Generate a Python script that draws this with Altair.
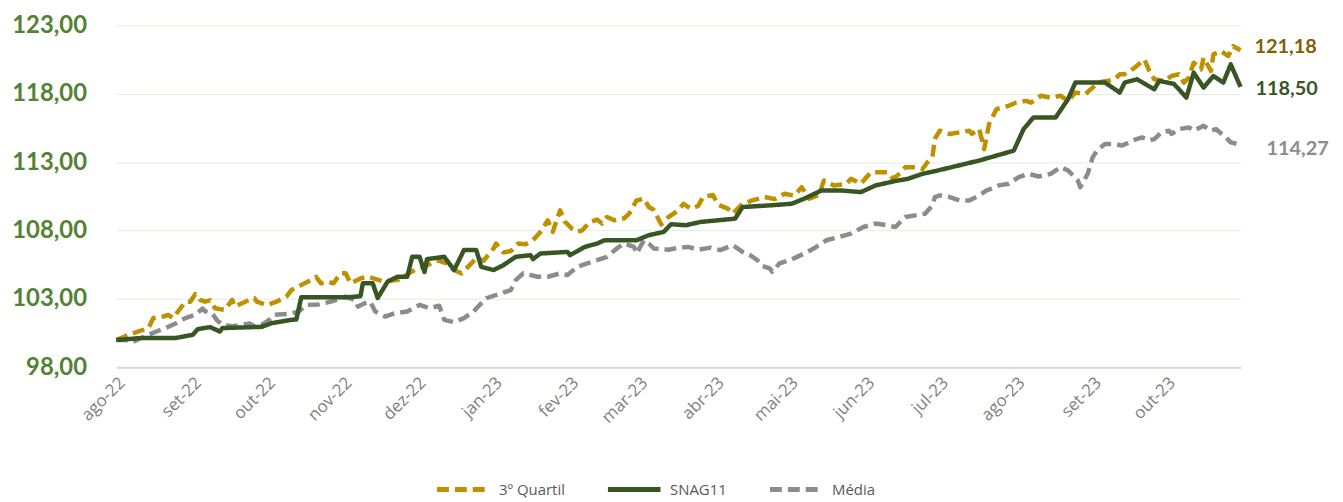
import altair as alt
import pandas as pd

# ---------------- data ----------------
series_nomes = ["3º Quartil", "SNAG11", "Média"]
series_cores = ["#BF9000", "#375623", "#8C8C8C"]
label_cores = ["#806000", "#375623", "#8C8C8C"]
y_ticks = [98, 103, 108, 113, 118, 123]
meses_pt = ["jan", "fev", "mar", "abr", "mai", "jun", "jul", "ago", "set", "out", "nov", "dez"]

q3_datas = [
    "2022-08-01", "2022-08-06", "2022-08-10", "2022-08-14", "2022-08-16", "2022-08-20", "2022-08-22",
    "2022-08-24", "2022-08-27", "2022-08-29", "2022-08-31", "2022-09-02", "2022-09-04", "2022-09-06",
    "2022-09-08", "2022-09-10", "2022-09-14", "2022-09-17", "2022-09-18", "2022-09-24", "2022-09-26",
    "2022-09-27", "2022-10-01", "2022-10-05", "2022-10-09", "2022-10-11", "2022-10-15", "2022-10-19",
    "2022-10-21", "2022-10-23", "2022-10-26", "2022-10-28", "2022-10-31", "2022-11-02", "2022-11-04",
    "2022-11-08", "2022-11-11", "2022-11-17", "2022-11-23", "2022-11-30", "2022-12-04", "2022-12-09",
    "2022-12-13", "2022-12-16", "2022-12-19", "2022-12-23", "2022-12-25", "2022-12-28", "2023-01-01",
    "2023-01-02", "2023-01-05", "2023-01-08", "2023-01-11", "2023-01-14", "2023-01-17", "2023-01-20",
    "2023-01-23", "2023-01-25", "2023-01-28", "2023-01-30", "2023-02-02", "2023-02-04", "2023-02-06",
    "2023-02-09", "2023-02-12", "2023-02-14", "2023-02-16", "2023-02-19", "2023-02-23", "2023-02-25",
    "2023-02-28", "2023-03-03", "2023-03-05", "2023-03-07", "2023-03-10", "2023-03-13", "2023-03-17",
    "2023-03-19", "2023-03-22", "2023-03-25", "2023-03-27", "2023-03-31", "2023-04-02", "2023-04-06",
    "2023-04-08", "2023-04-12", "2023-04-16", "2023-04-21", "2023-04-25", "2023-04-29", "2023-05-03",
    "2023-05-06", "2023-05-09", "2023-05-13", "2023-05-15", "2023-05-19", "2023-05-24", "2023-05-26",
    "2023-05-30", "2023-06-03", "2023-06-10", "2023-06-12", "2023-06-15", "2023-06-17", "2023-06-21",
    "2023-06-24", "2023-06-26", "2023-06-28", "2023-06-29", "2023-07-01", "2023-07-05", "2023-07-09",
    "2023-07-13", "2023-07-14", "2023-07-17", "2023-07-19", "2023-07-21", "2023-07-24", "2023-07-29",
    "2023-08-01", "2023-08-05", "2023-08-07", "2023-08-11", "2023-08-15", "2023-08-19", "2023-08-22",
    "2023-08-25", "2023-08-29", "2023-09-01", "2023-09-03", "2023-09-07", "2023-09-10", "2023-09-12",
    "2023-09-14", "2023-09-18", "2023-09-22", "2023-09-24", "2023-09-26", "2023-09-30", "2023-10-03",
    "2023-10-06", "2023-10-08", "2023-10-10", "2023-10-12", "2023-10-15", "2023-10-16", "2023-10-19",
    "2023-10-20", "2023-10-23", "2023-10-26", "2023-10-28", "2023-10-31",
]
q3_valores = [
    100.00, 100.38, 100.62, 100.87, 101.60, 101.71, 101.84,
    101.60, 102.32, 102.80, 102.80, 103.35, 102.93, 102.80,
    102.90, 102.32, 102.20, 102.93, 102.44, 102.93, 103.05,
    102.80, 102.56, 102.80, 103.17, 103.65, 104.02, 104.38,
    104.62, 104.14, 104.26, 104.14, 104.87, 104.87, 104.14,
    104.50, 104.62, 104.30, 104.38, 105.11, 105.35, 105.84,
    105.60, 105.11, 104.87, 105.60, 106.00, 105.80, 106.69,
    107.05, 106.40, 106.50, 107.05, 107.00, 107.29, 107.90,
    108.75, 107.90, 109.48, 108.63, 108.10, 107.90, 108.02,
    108.60, 108.80, 108.51, 108.99, 108.75, 108.90, 109.23,
    110.20, 110.33, 109.72, 109.50, 108.45, 109.00, 109.48,
    109.96, 109.60, 109.80, 110.45, 110.60, 109.90, 109.60,
    109.23, 109.96, 110.20, 110.45, 110.30, 110.69, 110.55,
    111.17, 110.33, 110.60, 111.66, 111.30, 111.40, 111.78,
    111.42, 112.26, 112.26, 111.78, 112.20, 112.63, 112.63,
    112.50, 112.99, 113.36, 114.70, 115.30, 115.06, 115.18,
    115.30, 115.06, 115.42, 113.95, 115.79, 116.88, 117.12,
    117.36, 117.48, 117.36, 117.85, 117.72, 117.85, 117.48,
    118.09, 117.97, 118.45, 118.82, 118.94, 119.06, 119.43,
    119.43, 119.90, 120.51, 119.67, 119.06, 118.94, 119.30,
    119.43, 118.82, 119.18, 120.27, 119.79, 120.63, 119.67,
    120.88, 121.12, 120.76, 121.48, 121.18,
]

snag_datas = [
    "2022-08-01", "2022-08-11", "2022-08-25", "2022-09-01", "2022-09-03", "2022-09-08", "2022-09-12",
    "2022-09-13", "2022-09-29", "2022-10-03", "2022-10-11", "2022-10-13", "2022-10-15", "2022-11-03",
    "2022-11-08", "2022-11-09", "2022-11-13", "2022-11-15", "2022-11-19", "2022-11-23", "2022-11-27",
    "2022-11-29", "2022-12-02", "2022-12-04", "2022-12-05", "2022-12-12", "2022-12-16", "2022-12-20",
    "2022-12-25", "2022-12-27", "2023-01-01", "2023-01-05", "2023-01-08", "2023-01-10", "2023-01-16",
    "2023-01-17", "2023-01-20", "2023-01-31", "2023-02-01", "2023-02-07", "2023-02-12", "2023-02-15",
    "2023-02-28", "2023-03-05", "2023-03-11", "2023-03-14", "2023-03-20", "2023-03-26", "2023-04-09",
    "2023-04-12", "2023-04-23", "2023-05-02", "2023-05-07", "2023-05-14", "2023-05-22", "2023-05-30",
    "2023-06-05", "2023-06-14", "2023-06-18", "2023-06-24", "2023-06-29", "2023-07-17", "2023-07-31",
    "2023-08-04", "2023-08-08", "2023-08-17", "2023-08-22", "2023-08-25", "2023-09-06", "2023-09-12",
    "2023-09-14", "2023-09-19", "2023-09-26", "2023-09-28", "2023-10-04", "2023-10-09", "2023-10-12",
    "2023-10-16", "2023-10-20", "2023-10-24", "2023-10-27", "2023-10-31",
]
snag_valores = [
    100.00, 100.14, 100.14, 100.38, 100.79, 100.94, 100.62,
    100.87, 100.96, 101.23, 101.47, 101.50, 103.12, 103.12,
    103.20, 104.14, 104.14, 103.07, 104.26, 104.62, 104.62,
    106.08, 106.08, 104.97, 105.91, 106.08, 105.11, 106.57,
    106.57, 105.35, 105.11, 105.47, 105.84, 106.08, 106.20,
    105.91, 106.32, 106.44, 106.20, 106.80, 107.05, 107.29,
    107.29, 107.66, 107.90, 108.46, 108.39, 108.63, 108.87,
    109.72, 109.84, 109.96, 110.33, 110.93, 110.93, 110.81,
    111.30, 111.66, 111.78, 112.15, 112.34, 113.12, 113.84,
    115.42, 116.27, 116.27, 117.60, 118.82, 118.82, 118.09,
    118.82, 119.06, 118.33, 118.94, 118.72, 117.72, 119.54,
    118.45, 119.30, 118.82, 120.15, 118.50,
]

media_datas = [
    "2022-08-01", "2022-08-05", "2022-08-07", "2022-08-11", "2022-08-17", "2022-08-21", "2022-08-25",
    "2022-08-29", "2022-09-02", "2022-09-05", "2022-09-06", "2022-09-09", "2022-09-11", "2022-09-13",
    "2022-09-17", "2022-09-21", "2022-09-24", "2022-09-26", "2022-09-29", "2022-10-02", "2022-10-04",
    "2022-10-10", "2022-10-14", "2022-10-17", "2022-10-22", "2022-10-27", "2022-11-02", "2022-11-06",
    "2022-11-07", "2022-11-10", "2022-11-12", "2022-11-14", "2022-11-18", "2022-11-22", "2022-11-27",
    "2022-12-02", "2022-12-06", "2022-12-10", "2022-12-12", "2022-12-16", "2022-12-20", "2022-12-24",
    "2022-12-25", "2022-12-29", "2023-01-04", "2023-01-08", "2023-01-10", "2023-01-13", "2023-01-19",
    "2023-01-23", "2023-01-28", "2023-01-31", "2023-02-04", "2023-02-08", "2023-02-12", "2023-02-16",
    "2023-02-20", "2023-02-23", "2023-02-27", "2023-02-28", "2023-03-03", "2023-03-05", "2023-03-07",
    "2023-03-13", "2023-03-17", "2023-03-21", "2023-03-25", "2023-03-30", "2023-04-03", "2023-04-08",
    "2023-04-12", "2023-04-15", "2023-04-18", "2023-04-20", "2023-04-23", "2023-04-24", "2023-04-27",
    "2023-05-02", "2023-05-07", "2023-05-11", "2023-05-16", "2023-05-21", "2023-05-26", "2023-05-31",
    "2023-06-05", "2023-06-09", "2023-06-13", "2023-06-17", "2023-06-21", "2023-06-25", "2023-06-28",
    "2023-06-29", "2023-07-01", "2023-07-05", "2023-07-09", "2023-07-13", "2023-07-17", "2023-07-20",
    "2023-07-25", "2023-07-29", "2023-08-02", "2023-08-06", "2023-08-10", "2023-08-15", "2023-08-19",
    "2023-08-22", "2023-08-26", "2023-08-27", "2023-08-30", "2023-09-01", "2023-09-03", "2023-09-06",
    "2023-09-10", "2023-09-13", "2023-09-17", "2023-09-21", "2023-09-24", "2023-09-26", "2023-09-29",
    "2023-10-02", "2023-10-03", "2023-10-06", "2023-10-10", "2023-10-12", "2023-10-16", "2023-10-19",
    "2023-10-21", "2023-10-25", "2023-10-27", "2023-10-31",
]
media_valores = [
    100.00, 100.00, 99.80, 100.14, 100.60, 100.87, 101.20,
    101.60, 101.84, 102.30, 102.10, 101.90, 101.40, 101.11,
    101.00, 101.11, 101.20, 101.00, 101.10, 101.47, 101.84,
    101.90, 102.08, 102.56, 102.60, 102.80, 103.17, 102.90,
    102.44, 102.70, 102.80, 102.08, 101.71, 101.96, 102.08,
    102.56, 102.32, 102.50, 101.47, 101.30, 101.60, 102.08,
    102.30, 103.05, 103.41, 103.65, 104.38, 104.87, 104.62,
    104.62, 104.87, 104.75, 105.35, 105.60, 105.84, 106.08,
    106.69, 107.05, 106.80, 106.32, 107.29, 107.05, 106.69,
    106.60, 106.75, 106.80, 106.60, 106.75, 106.57, 106.93,
    106.44, 106.20, 105.84, 105.40, 105.23, 104.99, 105.60,
    105.90, 106.32, 106.70, 107.29, 107.53, 107.78, 108.26,
    108.51, 108.40, 108.26, 108.99, 109.11, 109.23, 109.84,
    110.45, 110.57, 110.45, 110.20, 110.20, 110.57, 110.93,
    111.30, 111.42, 111.90, 112.15, 111.95, 112.15, 112.63,
    112.40, 111.66, 111.17, 112.15, 113.36, 113.90, 114.33,
    114.33, 114.21, 114.57, 114.81, 114.60, 114.69, 115.18,
    115.30, 115.06, 115.42, 115.54, 115.30, 115.66, 115.30,
    115.42, 114.81, 114.45, 114.27,
]

# ---------------- table ----------------
frames = []
for nome, datas, valores in zip(series_nomes,
                                [q3_datas, snag_datas, media_datas],
                                [q3_valores, snag_valores, media_valores]):
    frames.append(pd.DataFrame({"data": datas, "valor": valores, "serie": nome}))
df = pd.concat(frames, ignore_index=True)

last = df.groupby("serie", sort=False).tail(1).copy()
last["rotulo"] = last["valor"].map(lambda v: f"{v:.2f}".replace(".", ","))

# ---------------- encodings ----------------
x_enc = alt.X(
    "data:T",
    scale=alt.Scale(type="utc",
                    domain=[alt.DateTime(year=2022, month=8, date=1, utc=True),
                            alt.DateTime(year=2023, month=10, date=31, utc=True)]),
    axis=alt.Axis(
        title=None,
        tickCount={"interval": "month", "step": 1},
        labelExpr="['jan','fev','mar','abr','mai','jun','jul','ago','set','out','nov','dez'][utcmonth(datum.value)] + '-' + utcFormat(datum.value, '%y')",
        labelAngle=-45,
        labelFont="Open Sans",
        labelFontSize=17,
        labelColor="#7F7F7F",
        labelPadding=7,
        labelOverlap=False,
        labelBound=False,
        labelFlush=False,
        ticks=False,
        tickSize=0,
        grid=False,
        domainColor="#D9D9D9",
        domainWidth=2,
    ),
)
y_enc = alt.Y(
    "valor:Q",
    scale=alt.Scale(domain=[98, 123], nice=False, zero=False),
    axis=alt.Axis(
        title=None,
        values=y_ticks,
        labelExpr="replace(format(datum.value, '.2f'), '.', ',')",
        labelFont="Lato",
        labelFontWeight="bold",
        labelFontSize=24,
        labelColor="#548235",
        labelPadding=30,
        ticks=False,
        tickSize=0,
        domain=False,
        grid=True,
        gridColor="#E2EFDA",
        gridWidth=1,
    ),
)
color_enc = alt.Color(
    "serie:N",
    scale=alt.Scale(domain=series_nomes, range=series_cores),
    legend=alt.Legend(
        title=None,
        orient="none",
        direction="horizontal",
        legendX=320,
        legendY=438,
        symbolType="stroke",
        symbolSize=2800,
        symbolStrokeWidth=5,
        labelFont="Open Sans",
        labelFontSize=15,
        labelColor="#595959",
        labelOffset=7,
        columnPadding=32,
        padding=0,
    ),
)
dash_enc = alt.StrokeDash(
    "serie:N",
    scale=alt.Scale(domain=series_nomes, range=[[12, 6], [1, 0], [12, 6]]),
    legend=alt.Legend(title=None, orient="none", legendX=320, legendY=438),
)

base = alt.Chart(df)


def line_for(nome):
    return base.transform_filter(alt.datum.serie == nome).mark_line(
        strokeWidth=4.5, strokeCap="butt", strokeJoin="round"
    ).encode(x=x_enc, y=y_enc, color=color_enc, strokeDash=dash_enc)


lines = [line_for("Média"), line_for("3º Quartil"), line_for("SNAG11")]

offsets = {"3º Quartil": (14, -3), "SNAG11": (15, 2), "Média": (26, 4)}
texts = []
for nome, cor in zip(series_nomes, label_cores):
    dx, dy = offsets[nome]
    texts.append(
        alt.Chart(last[last["serie"] == nome]).mark_text(
            align="left", baseline="middle", dx=dx, dy=dy,
            font="Lato", fontWeight="bold", fontSize=20, color=cor,
        ).encode(x=alt.X("data:T", scale=alt.Scale(type="utc")), y="valor:Q", text="rotulo:N")
    )

chart = alt.layer(*lines, *texts).properties(
    width=1131,
    height=344,
    autosize=alt.AutoSizeParams(type="none"),
    padding={"left": 109, "top": 16, "right": 95, "bottom": 134},
    background="white",
).configure_view(stroke=None)

chart.save("out.html", embed_options={"renderer": "svg", "actions": False})
